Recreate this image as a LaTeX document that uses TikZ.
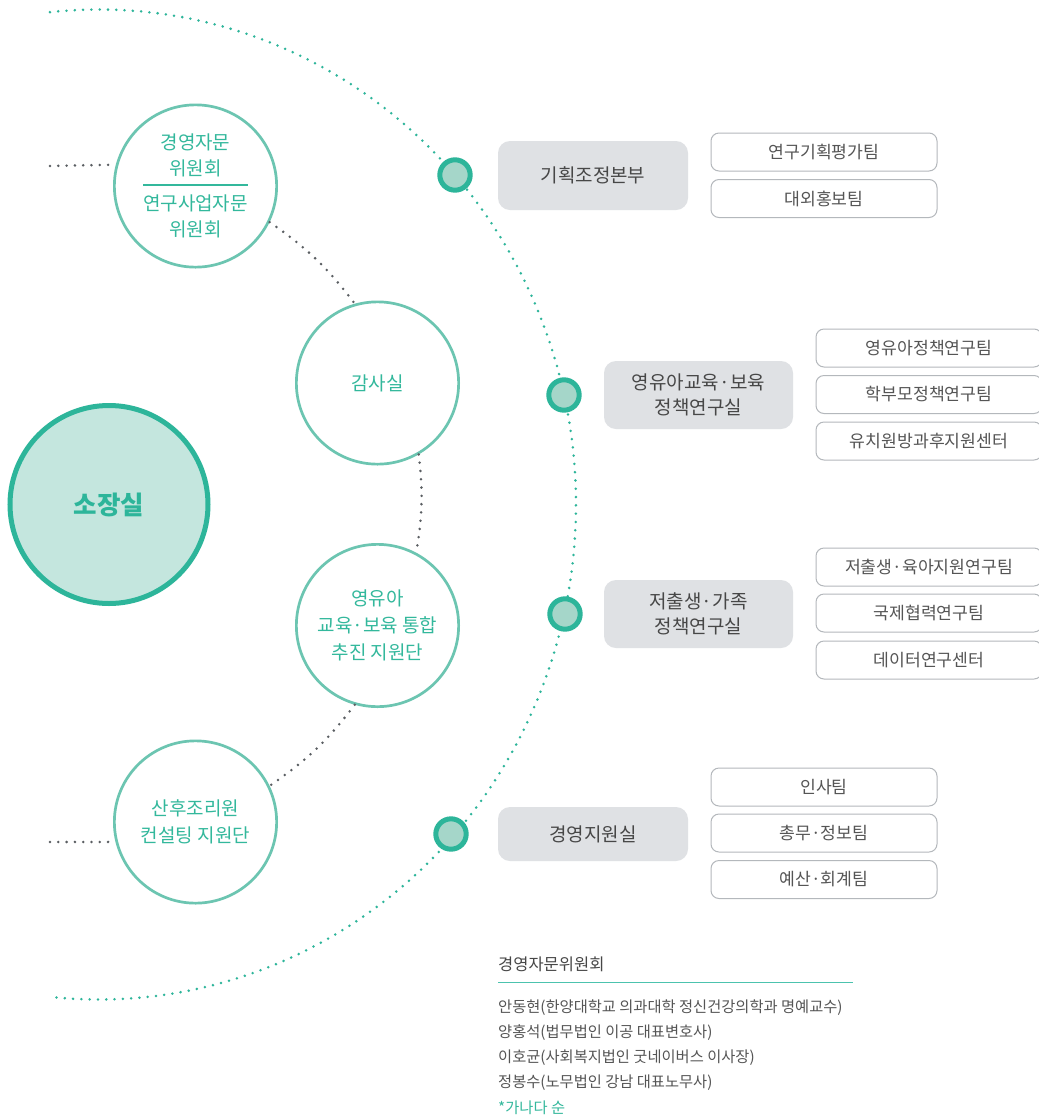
\documentclass[tikz,border=0pt]{standalone}
\usepackage{fontspec}
\setmainfont{Noto Sans CJK KR}
\definecolor{tealD}{HTML}{2DB59A}
\definecolor{tealL}{HTML}{C4E6DE}
\definecolor{tealM}{HTML}{6CC5B1}
\definecolor{dotfill}{HTML}{A5D6C9}
\definecolor{tealTxt}{HTML}{33B89C}
\definecolor{boxgray}{HTML}{DFE1E4}
\definecolor{txtdark}{HTML}{474747}
\definecolor{boxline}{HTML}{B4B8BC}
\definecolor{txtmid}{HTML}{555555}
\definecolor{dotgray}{HTML}{5A5E62}
\definecolor{ruleteal}{HTML}{4CC3AE}
\begin{document}
\begin{tikzpicture}[x=1pt,y=-1pt,
  tealarc/.style={draw=tealD, line width=2.8pt, line cap=round, dash pattern=on 0pt off 8.3pt},
  graydots/.style={draw=dotgray, line width=2.8pt, line cap=round, dash pattern=on 0pt off 8.3pt},
  tdot/.style={circle, draw=tealD, fill=dotfill, line width=5pt, minimum size=30.4pt, inner sep=0pt},
  bigc/.style={circle, draw=tealD, fill=tealL, line width=5pt, minimum size=198pt, inner sep=0pt,
    text=tealD, font=\fontsize{25.5}{30}\selectfont\bfseries},
  smallc/.style={circle, draw=tealM, fill=white, line width=2.7pt, minimum size=162.3pt, inner sep=0pt,
    text=tealTxt, align=center, font=\fontsize{19}{27}\selectfont},
  ctext/.style={text=tealTxt, align=center, inner sep=0pt, font=\fontsize{19}{25.5}\selectfont},
  graybox/.style={rectangle, rounded corners=12pt, fill=boxgray, minimum width=190pt, inner sep=0pt,
    text=txtdark, align=center, font=\fontsize{19}{25}\selectfont},
  teambox/.style={rectangle, rounded corners=8pt, draw=boxline, line width=1pt, fill=white,
    minimum width=226pt, minimum height=38pt, inner sep=0pt, text=txtmid, font=\fontsize{17.2}{20}\selectfont},
  listtxt/.style={anchor=west, inner sep=0pt, text=txtmid, font=\fontsize{15.3}{18}\selectfont}
]
\useasboundingbox (0,0) rectangle (1039,1120);
\clip (0,0) rectangle (1039,1120);
\fill[white] (0,0) rectangle (1039,1120);

% big teal dotted arc
\draw[tealarc] plot[domain=-95.9:95.9, samples=150, smooth] ({99+477*cos(\x)},{504.5+495*sin(\x)});

% circles
\node[bigc] (dir) at (109,504.5) {소장실};
\node[smallc] (c1) at (195.5,186) {};
\node[smallc] (c2) at (377.5,383) {감사실};
\node[smallc] (c3) at (377.5,625.5) {영유아\\교육·보육 통합\\추진 지원단};
\node[smallc] (c4) at (195.5,822) {산후조리원\\컨설팅 지원단};

% gray dotted connectors
\coordinate (s1) at (50,166);
\coordinate (s4) at (50,842);
\draw[graydots] (s1) -- (c1.165.9);
\draw[graydots] (s4) -- (c4.194.1);
\draw[graydots] (c1.-26.5) to[bend left=9] (c2.106.9);
\draw[graydots] (c2.-60.6) to[bend left=8] (c3.62.5);
\draw[graydots] (c3.-106.5) to[bend left=9] (c4.26.7);

% text inside circle 1
\node[ctext] (t1a) at (195.5,155.2) {경영자문\\위원회};
\node[ctext] (t1b) at (195.5,216.5) {연구사업자문\\위원회};
\coordinate (sepL) at (143,185);
\coordinate (sepR) at (248,185);
\draw[tealTxt, line width=1.4pt] (sepL) -- (sepR);

% teal dots on arc
\node[tdot] (d1) at (455,175) {};
\node[tdot] (d2) at (564,395) {};
\node[tdot] (d3) at (565,614) {};
\node[tdot] (d4) at (451,834) {};

% gray boxes
\node[graybox, minimum height=69pt] (b1) at (593,175.5) {기획조정본부};
\node[graybox, minimum width=189pt, minimum height=68pt] (b2) at (698.5,395) {영유아교육·보육\\정책연구실};
\node[graybox, minimum width=189pt, minimum height=68pt] (b3) at (698.5,614) {저출생·가족\\정책연구실};
\node[graybox, minimum height=54pt] (b4) at (593,834) {경영지원실};

% team boxes
\node[teambox] (r11) at (824,152) {연구기획평가팀};
\node[teambox] (r12) at (824,198.5) {대외홍보팀};
\node[teambox] (r21) at (929,348) {영유아정책연구팀};
\node[teambox] (r22) at (929,394.5) {학부모정책연구팀};
\node[teambox] (r23) at (929,441) {유치원방과후지원센터};
\node[teambox] (r31) at (929,567) {저출생·육아지원연구팀};
\node[teambox] (r32) at (929,613) {국제협력연구팀};
\node[teambox] (r33) at (929,660) {데이터연구센터};
\node[teambox] (r41) at (824,787) {인사팀};
\node[teambox] (r42) at (824,833) {총무·정보팀};
\node[teambox] (r43) at (824,879.5) {예산·회계팀};

% advisory committee list
\node[anchor=west, inner sep=0pt, text=txtdark, font=\fontsize{16.5}{20}\selectfont] (advT) at (498,964) {경영자문위원회};
\coordinate (ruleL) at (498,982.5);
\coordinate (ruleR) at (853,982.5);
\draw[ruleteal, line width=1.6pt] (ruleL) -- (ruleR);
\node[listtxt] (m1) at (498,1008) {안동현(한양대학교 의과대학 정신건강의학과 명예교수)};
\node[listtxt] (m2) at (498,1033) {양홍석(법무법인 이공 대표변호사)};
\node[listtxt] (m3) at (498,1058) {이호균(사회복지법인 굿네이버스 이사장)};
\node[listtxt] (m4) at (498,1083) {정봉수(노무법인 강남 대표노무사)};
\node[listtxt, text=tealTxt] (m5) at (498,1108) {*가나다 순};
\end{tikzpicture}
\end{document}
